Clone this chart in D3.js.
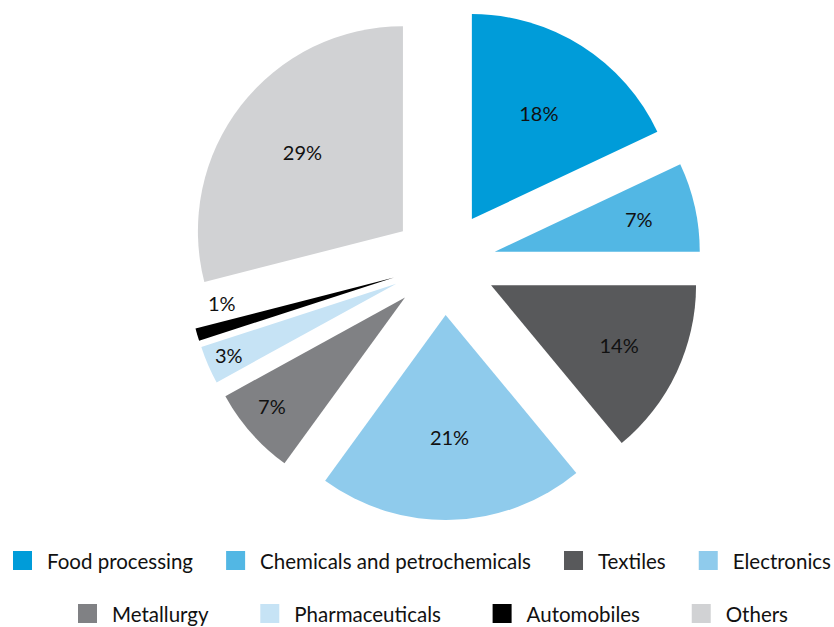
<!DOCTYPE html>
<html>
<head>
<meta charset="utf-8">
<script src="https://cdn.jsdelivr.net/npm/d3@7"></script>
<style>
  html, body { margin: 0; padding: 0; background: #fff; }
  svg { display: block; font-family: Lato, "Open Sans", sans-serif; }
</style>
</head>
<body>
<svg id="chart" width="834" height="627"></svg>
<script>
// Industry shares (%)
const categories = ["Food processing", "Chemicals and petrochemicals", "Textiles", "Electronics",
                    "Metallurgy", "Pharmaceuticals", "Automobiles", "Others"];
const shares = [18, 7, 14, 21, 7, 3, 1, 29];
const colors = ["#009cd9", "#52b7e4", "#58595b", "#8fcbec", "#808184", "#c6e3f5", "#000000", "#d1d2d4"];

// Layout / styling
const width = 834, height = 627;
const cx = 444, cy = 263, radius = 205;
const explode = 52;                       // radial pull-out of each wedge
const labelFrac = [0.61, 0.72, 0.69, 0.6, 0.84, 0.89, 0.85, 0.62];
const labelTurn = [0, 0, 0, 0, 2, 0, 7.6, 0];   // degrees

const svg = d3.select("#chart");
const data = categories.map((c, i) => ({ name: c, value: shares[i], color: colors[i], i }));

const pie = d3.pie().sort(null).value(d => d.value).startAngle(0).endAngle(2 * Math.PI);
const arc = d3.arc().innerRadius(0).outerRadius(radius);
const arcs = pie(data);

const dir = a => [Math.sin(a), -Math.cos(a)];

const g = svg.append("g").attr("transform", `translate(${cx},${cy})`);

const wedge = g.selectAll("g.slice").data(arcs).join("g")
  .attr("class", "slice")
  .attr("transform", d => {
    const [ux, uy] = dir((d.startAngle + d.endAngle) / 2);
    return `translate(${ux * explode},${uy * explode})`;
  });

wedge.append("path")
  .attr("d", arc)
  .attr("fill", d => d.data.color);

wedge.append("text")
  .attr("transform", d => {
    const m = (d.startAngle + d.endAngle) / 2 + labelTurn[d.data.i] * Math.PI / 180;
    const [ux, uy] = dir(m);
    const r = labelFrac[d.data.i] * radius;
    return `translate(${ux * r},${uy * r})`;
  })
  .attr("text-anchor", "middle")
  .attr("dy", "0.36em")
  .attr("font-size", 20)
  .attr("fill", "#111")
  .text(d => d.data.value + "%");

// Legend: two justified rows
const rows = [
  { items: [0, 1, 2, 3], x0: 13, x1: 831, y: 560.5 },
  { items: [4, 5, 6, 7], x0: 78, x1: 788, y: 613.5 }
];
const sw = 19, gapText = 15;
const legend = svg.append("g").attr("font-size", 20.5).attr("fill", "#111");

rows.forEach(row => {
  const groups = row.items.map(i => {
    const it = legend.append("g");
    it.append("rect").attr("width", sw).attr("height", sw).attr("y", row.y - sw / 2).attr("fill", colors[i]);
    const t = it.append("text").attr("x", sw + gapText).attr("y", row.y + 8.5).text(categories[i]);
    const w = sw + gapText + t.node().getComputedTextLength();
    return { it, w };
  });
  const total = d3.sum(groups, d => d.w);
  const gap = (row.x1 - row.x0 - total) / (groups.length - 1);
  let x = row.x0;
  groups.forEach(gr => {
    gr.it.attr("transform", `translate(${x},0)`);
    x += gr.w + gap;
  });
});
</script>
</body>
</html>
